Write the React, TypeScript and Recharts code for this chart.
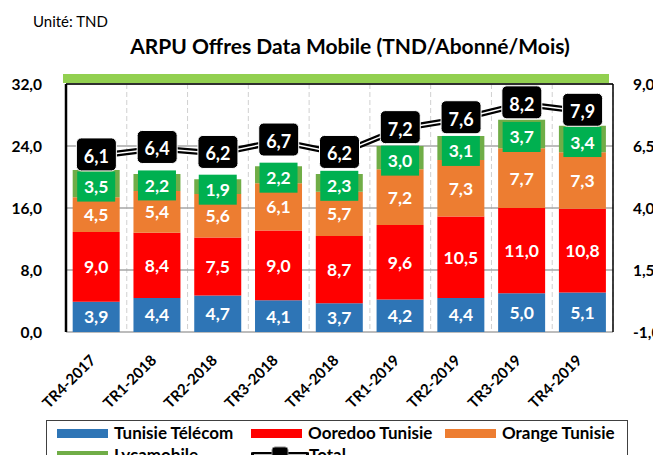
import {
  ComposedChart,
  Bar,
  Line,
  XAxis,
  YAxis,
  CartesianGrid,
  LabelList,
  ReferenceLine,
} from "recharts";

const quarters = [
  "TR4-2017",
  "TR1-2018",
  "TR2-2018",
  "TR3-2018",
  "TR4-2018",
  "TR1-2019",
  "TR2-2019",
  "TR3-2019",
  "TR4-2019",
];
const tunisieTelecom = [3.9, 4.4, 4.7, 4.1, 3.7, 4.2, 4.4, 5.0, 5.1];
const ooredoo = [9.0, 8.4, 7.5, 9.0, 8.7, 9.6, 10.5, 11.0, 10.8];
const orange = [4.5, 5.4, 5.6, 6.1, 5.7, 7.2, 7.3, 7.7, 7.3];
const lycamobile = [3.5, 2.2, 1.9, 2.2, 2.3, 3.0, 3.1, 3.7, 3.4];
const total = [6.1, 6.4, 6.2, 6.7, 6.2, 7.2, 7.6, 8.2, 7.9];
const leftTicks = [0, 8, 16, 24, 32];
const rightTicks = [-1, 1.5, 4, 6.5, 9];
const slots = [0, 1, 2, 3, 4, 5, 6, 7, 8, 9];

const data = quarters.map((q, i) => ({
  q,
  tt: tunisieTelecom[i],
  oo: ooredoo[i],
  or: orange[i],
  ly: lycamobile[i],
  total: total[i],
}));

const FONT = "Lato, 'Open Sans', sans-serif";
const fmt = (v: number) => v.toFixed(1).replace(".", ",");

const whiteLabel = (props: any) => {
  const { x, y, width, height, value } = props;
  return (
    <text
      x={x + width / 2}
      y={y + height / 2}
      textAnchor="middle"
      dominantBaseline="central"
      fill="#fff"
      fontSize={17.5}
      fontWeight={700}
      fontFamily={FONT}
    >
      {fmt(value)}
    </text>
  );
};

const lycaLabel = (props: any) => {
  const { x, y, width, height, value } = props;
  const cx = x + width / 2;
  const cy = y + height / 2 + 3;
  return (
    <g>
      <rect x={cx - 19} y={cy - 15} width={38} height={30} fill="#00b050" />
      <text
        x={cx}
        y={cy}
        textAnchor="middle"
        dominantBaseline="central"
        fill="#fff"
        fontSize={17.5}
        fontWeight={700}
        fontFamily={FONT}
      >
        {fmt(value)}
      </text>
    </g>
  );
};

const totalLabel = (props: any) => {
  const { x, y, value } = props;
  return (
    <g>
      <rect
        x={x - 20}
        y={y - 18}
        width={40}
        height={33}
        rx={5}
        fill="#000"
        stroke="#fff"
        strokeWidth={1}
      />
      <text
        x={x}
        y={y}
        textAnchor="middle"
        dominantBaseline="central"
        fill="#fff"
        fontSize={18}
        fontWeight={700}
        fontFamily={FONT}
      >
        {fmt(value)}
      </text>
    </g>
  );
};

const QuarterTick = (props: any) => {
  const { x, y, payload } = props;
  const tx = x - 4;
  const ty = y + 17;
  return (
    <text
      x={tx}
      y={ty}
      transform={`rotate(-45, ${tx}, ${ty})`}
      textAnchor="end"
      dominantBaseline="central"
      fill="#000"
      fontSize={15}
      fontWeight={700}
      fontFamily={FONT}
    >
      {payload.value}
    </text>
  );
};

const legendItems = [
  { name: "Tunisie Télécom", color: "#2e75b6" },
  { name: "Ooredoo Tunisie", color: "#ff0000" },
  { name: "Orange Tunisie", color: "#ed7d31" },
  { name: "Lycamobile", color: "#70ad47" },
  { name: "Total", color: "line" },
];

function LegendBox() {
  return (
    <div
      style={{
        position: "absolute",
        left: 46,
        top: 420,
        width: 582,
        height: 50,
        border: "1px solid #404040",
        boxSizing: "border-box",
        fontFamily: FONT,
        fontWeight: 700,
        fontSize: 17,
        color: "#000",
      }}
    >
      {legendItems.map((item, i) => (
        <div
          key={item.name}
          style={{
            position: "absolute",
            left: 10 + (i % 3) * 194,
            top: i < 3 ? 2 : 24,
            height: 20,
            display: "flex",
            alignItems: "center",
            whiteSpace: "nowrap",
            lineHeight: "20px",
          }}
        >
          {item.color === "line" ? (
            <svg width={58} height={20}>
              <line x1={2} y1={10} x2={56} y2={10} stroke="#000" strokeWidth={6} strokeLinecap="round" />
              <line x1={3} y1={10} x2={55} y2={10} stroke="#fff" strokeWidth={1.5} />
              <rect x={21} y={2} width={16} height={16} rx={3} fill="#000" stroke="#888" strokeWidth={1} />
            </svg>
          ) : (
            <div style={{ width: 51, height: 9, background: item.color, marginRight: 6 }} />
          )}
          <span>{item.name}</span>
        </div>
      ))}
    </div>
  );
}

export default function App() {
  return (
    <div
      style={{
        position: "relative",
        width: 661,
        height: 463,
        margin: -8,
        background: "#fff",
        overflow: "hidden",
      }}
    >
      <div
        style={{
          position: "absolute",
          left: 33,
          top: 12,
          fontFamily: FONT,
          fontSize: 15,
          color: "#000",
        }}
      >
        Unité: TND
      </div>
      <div
        style={{
          position: "absolute",
          left: 0,
          width: 700,
          top: 33,
          textAlign: "center",
          fontFamily: FONT,
          fontWeight: 700,
          fontSize: 21,
          color: "#000",
        }}
      >
        ARPU Offres Data Mobile (TND/Abonné/Mois)
      </div>
      <div
        style={{
          position: "absolute",
          left: 63,
          top: 74,
          width: 546,
          height: 9,
          background: "#92d050",
        }}
      />
      <ComposedChart
        width={661}
        height={463}
        data={data}
        margin={{ top: 84, right: 0, bottom: 51, left: 0 }}
        barCategoryGap="11%"
      >
        <CartesianGrid
          yAxisId="left"
          xAxisId="grid"
          horizontal={false}
          stroke="#d0d0d0"
          strokeDasharray="5 3"
        />
        <CartesianGrid
          yAxisId="left"
          xAxisId="grid"
          vertical={false}
          stroke="#a6a6a6"
          strokeWidth={1.5}
        />
        <XAxis
          xAxisId="grid"
          type="number"
          dataKey="q"
          domain={[0, 9]}
          ticks={slots}
          height={0}
          axisLine={{ stroke: "#000", strokeWidth: 3 }}
          tickLine={{ stroke: "#000", strokeWidth: 2 }}
          tickSize={6}
          tickFormatter={() => ""}
          allowDataOverflow
        />
        <XAxis
          xAxisId="cat"
          dataKey="q"
          height={80}
          axisLine={false}
          tickLine={false}
          interval={0}
          tick={<QuarterTick />}
        />
        <YAxis
          yAxisId="left"
          width={66}
          domain={[0, 32]}
          ticks={leftTicks}
          tickFormatter={fmt}
          axisLine={{ stroke: "#000", strokeWidth: 2.5 }}
          tickLine={false}
          tickMargin={18}
          tick={{ fill: "#000", fontSize: 15.5, fontWeight: 700, fontFamily: FONT }}
        />
        <YAxis
          yAxisId="right"
          orientation="right"
          width={48}
          domain={[-1, 9]}
          ticks={rightTicks}
          tickFormatter={fmt}
          axisLine={{ stroke: "#000", strokeWidth: 1.5 }}
          tickLine={false}
          tickMargin={14}
          tick={{ fill: "#000", fontSize: 15.5, fontWeight: 700, fontFamily: FONT, textAnchor: "start" }}
        />
        <ReferenceLine yAxisId="left" xAxisId="cat" y={32} stroke="#000" strokeWidth={1.5} />
        <Bar dataKey="tt" name="Tunisie Télécom" stackId="a" yAxisId="left" xAxisId="cat" fill="#2e75b6" isAnimationActive={false}>
          <LabelList dataKey="tt" content={whiteLabel} />
        </Bar>
        <Bar dataKey="oo" name="Ooredoo Tunisie" stackId="a" yAxisId="left" xAxisId="cat" fill="#ff0000" isAnimationActive={false}>
          <LabelList dataKey="oo" content={whiteLabel} />
        </Bar>
        <Bar dataKey="or" name="Orange Tunisie" stackId="a" yAxisId="left" xAxisId="cat" fill="#ed7d31" isAnimationActive={false}>
          <LabelList dataKey="or" content={whiteLabel} />
        </Bar>
        <Bar dataKey="ly" name="Lycamobile" stackId="a" yAxisId="left" xAxisId="cat" fill="#70ad47" isAnimationActive={false}>
          <LabelList dataKey="ly" content={lycaLabel} />
        </Bar>
        <Line
          dataKey="total"
          yAxisId="right"
          xAxisId="cat"
          stroke="#000"
          strokeWidth={6}
          dot={false}
          activeDot={false}
          isAnimationActive={false}
        />
        <Line
          dataKey="total"
          name="Total"
          yAxisId="right"
          xAxisId="cat"
          stroke="#fff"
          strokeWidth={1.5}
          dot={false}
          activeDot={false}
          isAnimationActive={false}
        >
          <LabelList dataKey="total" content={totalLabel} />
        </Line>
      </ComposedChart>
      <LegendBox />
    </div>
  );
}
